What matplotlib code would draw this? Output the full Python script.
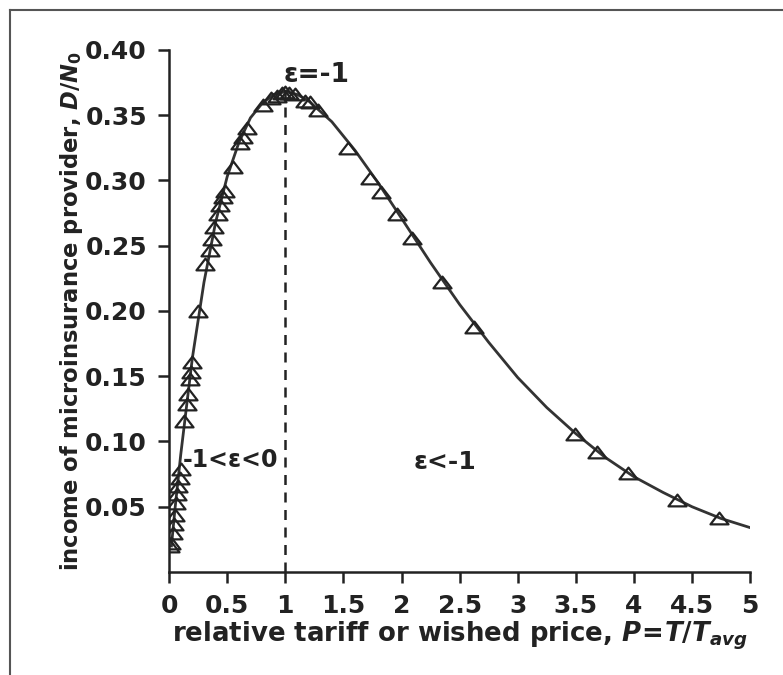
import matplotlib
matplotlib.use("Agg")
import matplotlib.pyplot as plt
from matplotlib.lines import Line2D
from matplotlib.path import Path

# fitted curve
curve_p = [0.02, 0.05, 0.1, 0.2, 0.3, 0.4, 0.5, 0.6, 0.7, 0.8, 0.9, 1.0, 1.1, 1.2,
           1.4, 1.6, 1.8, 2.0, 2.25, 2.5, 2.75, 3.0, 3.25, 3.5, 3.75, 4.0, 4.25,
           4.5, 4.75, 5.0]
curve_d = [0.020, 0.048, 0.090, 0.164, 0.222, 0.268, 0.303, 0.329, 0.348, 0.359,
           0.366, 0.368, 0.366, 0.361, 0.345, 0.323, 0.298, 0.271, 0.237, 0.205,
           0.176, 0.149, 0.126, 0.106, 0.088, 0.073, 0.061, 0.050, 0.041, 0.034]

# triangle markers (simulated points)
pts_p = [0.01, 0.02, 0.03, 0.04, 0.05, 0.06, 0.07, 0.08, 0.09, 0.10,
         0.13, 0.15, 0.16, 0.18, 0.19, 0.20, 0.25,
         0.31, 0.35, 0.37, 0.39, 0.42, 0.44, 0.46, 0.48,
         0.55, 0.61, 0.64, 0.67, 0.81, 0.88, 0.93, 0.97, 1.0, 1.03, 1.08,
         1.17, 1.21, 1.28, 1.54, 1.73, 1.82, 1.96, 2.09, 2.35, 2.62,
         3.49, 3.68, 3.95, 4.37, 4.73]
pts_d = [0.020, 0.022, 0.030, 0.037, 0.044, 0.053, 0.060, 0.066, 0.072, 0.079,
         0.116, 0.129, 0.136, 0.148, 0.153, 0.161, 0.200,
         0.236, 0.247, 0.255, 0.264, 0.274, 0.281, 0.287, 0.292,
         0.310, 0.329, 0.333, 0.340, 0.358, 0.363, 0.365, 0.367, 0.368, 0.367, 0.366,
         0.361, 0.360, 0.354, 0.325, 0.302, 0.291, 0.274, 0.256, 0.222, 0.188,
         0.106, 0.092, 0.076, 0.055, 0.041]

x_ticks = [0, 0.5, 1, 1.5, 2, 2.5, 3, 3.5, 4, 4.5, 5]
x_labels = ['0', '0.5', '1', '1.5', '2', '2.5', '3', '3.5', '4', '4.5', '5']
y_ticks = [0.05, 0.10, 0.15, 0.20, 0.25, 0.30, 0.35, 0.40]
y_labels = ['0.05', '0.10', '0.15', '0.20', '0.25', '0.30', '0.35', '0.40']

plt.rcParams['font.family'] = ['DejaVu Sans']
plt.rcParams['font.weight'] = 'bold'
plt.rcParams['mathtext.fontset'] = 'custom'
plt.rcParams['mathtext.it'] = 'DejaVu Sans:bold:italic'
plt.rcParams['mathtext.rm'] = 'DejaVu Sans:bold'

fig = plt.figure(figsize=(7.83, 6.75), dpi=100)
ax = fig.add_axes([0.216, 0.1526, 0.742, 0.7734])

# squat open triangle
tri = Path([(-1.0, -0.65), (1.0, -0.65), (0.0, 0.65), (-1.0, -0.65)],
           [Path.MOVETO, Path.LINETO, Path.LINETO, Path.CLOSEPOLY])

ax.plot(curve_p, curve_d, color='#333333', lw=2.0, zorder=2)
ax.plot(pts_p, pts_d, ls='none', marker=tri, markersize=13, mfc='none',
        mec='#222222', mew=1.6, zorder=3)
ax.plot([1, 1], [0, 0.368], color='#222222', lw=1.8, ls=(0, (4, 3)), zorder=1)

ax.set_xlim(0, 5)
ax.set_ylim(0, 0.40)
ax.set_xticks(x_ticks)
ax.set_xticklabels(x_labels)
ax.set_yticks(y_ticks)
ax.set_yticklabels(y_labels)
ax.spines['top'].set_visible(False)
ax.spines['right'].set_visible(False)
for s in ['left', 'bottom']:
    ax.spines[s].set_linewidth(1.8)
    ax.spines[s].set_color('#222222')
ax.tick_params(direction='out', length=8, width=1.8, colors='#222222',
               labelsize=18, pad=8)
for lab in ax.get_xticklabels() + ax.get_yticklabels():
    lab.set_fontweight('bold')

ax.set_xlabel('relative tariff or wished price, $P\\!=\\!T/T_{avg}$',
              fontsize=18.7, fontweight='bold', color='#222222', labelpad=1)
ax.set_ylabel('income of microinsurance provider, $D/N_0$',
              fontsize=16.3, fontweight='bold', color='#222222', labelpad=0)

ax.text(1.27, 0.381, 'ε=-1', fontsize=19, fontweight='bold', ha='center',
        va='center', color='#222222')
ax.text(0.12, 0.086, '-1<ε<0', fontsize=17, fontweight='bold', ha='left',
        va='center', color='#222222')
ax.text(2.1, 0.084, 'ε<-1', fontsize=18, fontweight='bold', ha='left',
        va='center', color='#222222')

# outer frame of the original figure
fig.add_artist(Line2D([10 / 783, 1], [1 - 10 / 675, 1 - 10 / 675],
                      transform=fig.transFigure, color='#555555', lw=1.5))
fig.add_artist(Line2D([10 / 783, 10 / 783], [0, 1 - 10 / 675],
                      transform=fig.transFigure, color='#555555', lw=1.5))

fig.savefig('out.png', dpi=100)
